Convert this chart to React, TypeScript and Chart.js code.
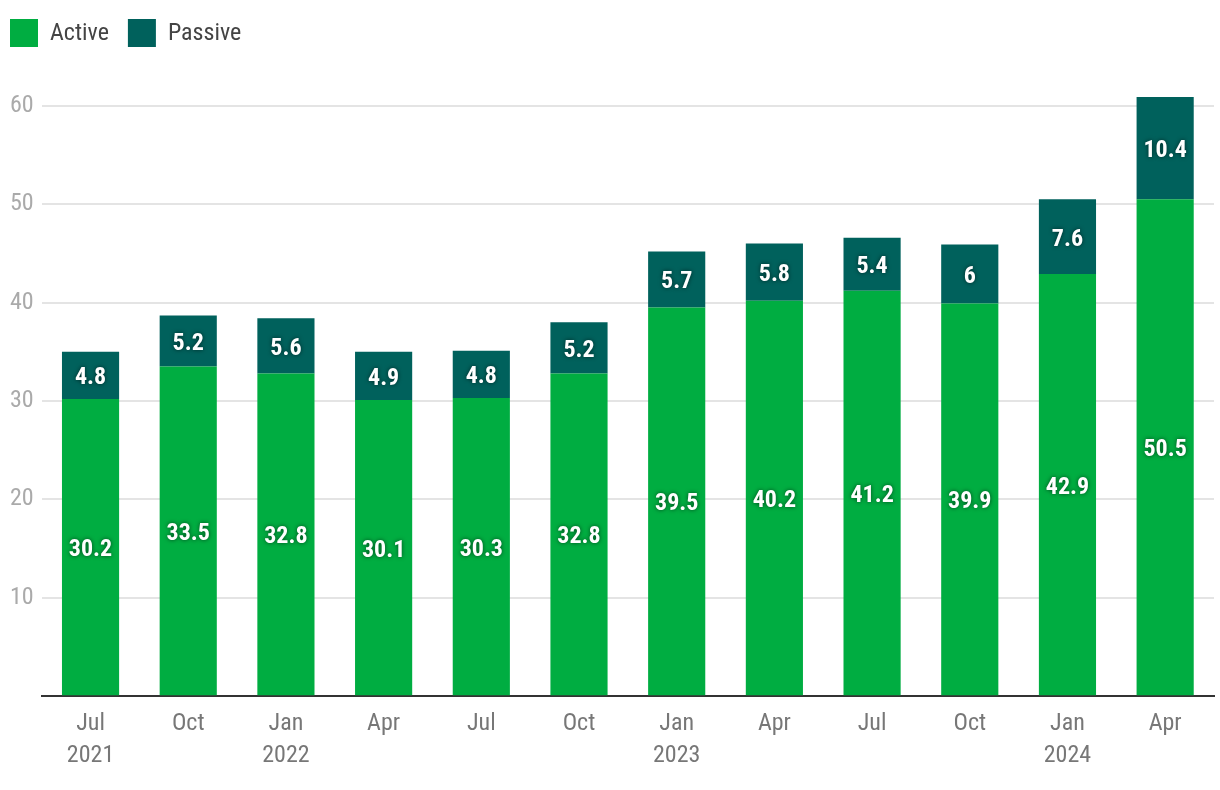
import React, { useEffect, useRef } from "react";
import { Chart, registerables } from "chart.js";

Chart.register(...registerables);

const categories: string[][] = [
  ["Jul", "2021"], ["Oct"], ["Jan", "2022"], ["Apr"], ["Jul"], ["Oct"],
  ["Jan", "2023"], ["Apr"], ["Jul"], ["Oct"], ["Jan", "2024"], ["Apr"],
];
const activeValues = [30.2, 33.5, 32.8, 30.1, 30.3, 32.8, 39.5, 40.2, 41.2, 39.9, 42.9, 50.5];
const passiveValues = [4.8, 5.2, 5.6, 4.9, 4.8, 5.2, 5.7, 5.8, 5.4, 6, 7.6, 10.4];
const seriesNames = ["Active", "Passive"];
const yTicks = [10, 20, 30, 40, 50, 60];

const GREEN = "#00ad41";
const TEAL = "#00615c";
const FONT = "'Roboto Condensed', 'Liberation Sans Narrow', 'DejaVu Sans Condensed', Roboto, sans-serif";

const labelPlugin = {
  id: "segLabels",
  afterDatasetsDraw(chart: any) {
    const ctx = chart.ctx;
    ctx.save();
    ctx.font = `bold 24px ${FONT}`;
    ctx.fillStyle = "#ffffff";
    ctx.textAlign = "center";
    ctx.textBaseline = "middle";
    ctx.shadowColor = "rgba(0,0,0,0.6)";
    ctx.shadowBlur = 4;
    chart.data.datasets.forEach((ds: any, di: number) => {
      const meta = chart.getDatasetMeta(di);
      meta.data.forEach((el: any, i: number) => {
        const y = (el.y + el.base) / 2;
        ctx.fillText(String(ds.data[i]), el.x, y + 3);
      });
    });
    ctx.restore();
  },
};

const legendPlugin = {
  id: "customLegend",
  afterDraw(chart: any) {
    const ctx = chart.ctx;
    ctx.save();
    ctx.font = `24px ${FONT}`;
    ctx.textBaseline = "middle";
    let x = 10;
    chart.data.datasets.forEach((ds: any) => {
      ctx.fillStyle = ds.backgroundColor;
      ctx.fillRect(x, 19, 28, 28);
      ctx.fillStyle = "#444444";
      ctx.textAlign = "left";
      ctx.fillText(ds.label, x + 40, 34);
      x += 40 + ctx.measureText(ds.label).width + 19;
    });
    ctx.restore();
  },
};

export default function App() {
  const ref = useRef<HTMLCanvasElement>(null);
  useEffect(() => {
    if (!ref.current) return;
    const chart = new Chart(ref.current, {
      type: "bar",
      data: {
        labels: categories,
        datasets: [
          { label: seriesNames[0], data: activeValues, backgroundColor: GREEN, barPercentage: 0.585, categoryPercentage: 1 },
          { label: seriesNames[1], data: passiveValues, backgroundColor: TEAL, barPercentage: 0.585, categoryPercentage: 1 },
        ],
      },
      options: {
        responsive: false,
        animation: false,
        layout: { padding: { top: 96, right: 6, left: 10, bottom: 6 } },
        plugins: { legend: { display: false }, tooltip: { enabled: false } },
        scales: {
          x: {
            stacked: true,
            grid: { display: false, drawTicks: false },
            border: { display: true, color: "#333333", width: 2 },
            ticks: {
              color: "#777777",
              font: { family: FONT, size: 24, lineHeight: 1.33 },
              padding: 12,
              maxRotation: 0,
              autoSkip: false,
            },
          },
          y: {
            stacked: true,
            min: 0,
            max: 61,
            afterBuildTicks(axis: any) {
              axis.ticks = [0, ...yTicks].map((v) => ({ value: v }));
            },
            grid: {
              drawTicks: false,
              color: (c: any) => (c.tick && c.tick.value === 0 ? "rgba(0,0,0,0)" : "#e4e4e4"),
              lineWidth: 2,
            },
            border: { display: false },
            ticks: {
              color: "#aaaaaa",
              font: { family: FONT, size: 24 },
              padding: 4,
              crossAlign: "far",
              callback: (v: any) => (v === 0 ? "" : String(v)),
            },
          },
        },
      },
      plugins: [labelPlugin, legendPlugin],
    });
    return () => chart.destroy();
  }, []);
  return (
    <div style={{ position: "fixed", left: 0, top: 0, width: 1220, height: 790, background: "#fff" }}>
      <canvas ref={ref} width={1220} height={790} />
    </div>
  );
}
